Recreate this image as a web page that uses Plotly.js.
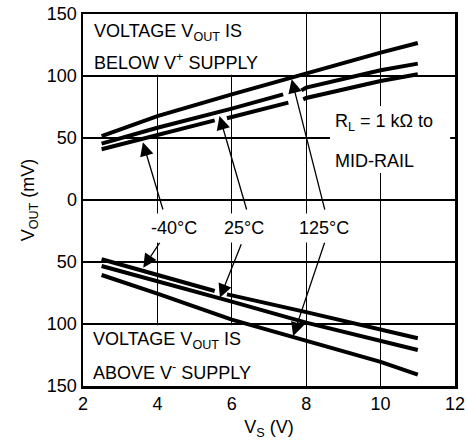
<!DOCTYPE html>
<html>
<head>
<meta charset="utf-8">
<script src="https://cdn.plot.ly/plotly-3.0.1.min.js"></script>
<style>html,body{margin:0;padding:0;background:#fff;}#chart{width:467px;height:447px;}</style>
</head>
<body>
<div id="chart"></div>
<script>
// Supply voltage V_S (V)
const upper125X = [2.5, 4, 6, 8, 10, 11];
const upper125Y = [51.6, 67.7, 85.2, 102.4, 118.8, 126.6];
const upper25X = [2.5, 4, 6, 7.38, null, 7.87, 8, 10, 11];
const upper25Y = [45.4, 58.3, 73.7, 85.2, null, 88.4, 90.6, 104.6, 110];
const upperM40X = [2.5, 4, 5.54, null, 5.87, 6, 7.52, null, 7.92, 8, 10, 11];
const upperM40Y = [40.9, 52.6, 64.2, null, 65.9, 66.9, 78.5, null, 81.2, 82.3, 96, 101.4];
// Below-zero half of the chart: V_OUT above V- supply (plotted downward)
const lowerM40X = [2.5, 4, 5.54, null, 5.87, 6, 8, 10, 11];
const lowerM40Y = [-47.8, -60.7, -73.4, null, -76.1, -76.9, -90.4, -104.3, -111.5];
const lower25X = [2.5, 4, 6, 8, 10, 11];
const lower25Y = [-53.2, -65.2, -82.0, -98.9, -113.6, -121.0];
const lower125X = [2.5, 4, 6, 8, 10, 11];
const lower125Y = [-60.5, -75.5, -96.5, -113.5, -130.5, -140.9];

const xTicks = [2, 4, 6, 8, 10, 12];
const yTicks = [-150, -100, -50, 0, 50, 100, 150];
const yTickText = ['150', '100', '50', '0', '50', '100', '150'];
const tempLabels = ['-40°C', '25°C', '125°C'];

const FONT = 'Liberation Sans, Arial, Helvetica, sans-serif';
const lineStyle = {color: '#000', width: 4};

const series = [
  [upper125X, upper125Y, '125°C above'],
  [upper25X, upper25Y, '25°C above'],
  [upperM40X, upperM40Y, '-40°C above'],
  [lowerM40X, lowerM40Y, '-40°C below'],
  [lower25X, lower25Y, '25°C below'],
  [lower125X, lower125Y, '125°C below']
];
const traces = series.map(s => ({
  x: s[0], y: s[1], name: s[2], type: 'scatter', mode: 'lines',
  line: lineStyle, connectgaps: false, hoverinfo: 'skip'
}));

function txt(x, y, text, anchor) {
  return {x: x, y: y, xref: 'x', yref: 'y', text: text, showarrow: false,
    xanchor: anchor || 'left', yanchor: 'middle', font: {family: FONT, size: 18, color: '#000'}};
}
function arrow(x, y, ax, ay) {
  return {x: x, y: y, ax: ax, ay: ay, xref: 'x', yref: 'y', axref: 'x', ayref: 'y',
    text: '', showarrow: true, arrowhead: 2, arrowsize: 2.1, arrowwidth: 1.3,
    arrowcolor: '#000', standoff: 0, startstandoff: 0};
}
function tempLabel(x, text) {
  const a = txt(x, -22.3, text, 'center');
  a.bgcolor = '#fff';
  a.borderpad = 4;
  return a;
}

const annotations = [
  txt(2.234, 134.9, 'VOLTAGE V<sub>OUT</sub> IS'),
  txt(2.234, 111.5, 'BELOW V<sup>+</sup> SUPPLY'),
  txt(2.207, -113.7, 'VOLTAGE V<sub>OUT</sub> IS'),
  txt(2.207, -137.9, 'ABOVE V<sup>-</sup> SUPPLY'),
  txt(8.73, 62.5, 'R<sub>L</sub> = 1 kΩ to'),
  txt(8.73, 31.5, 'MID-RAIL'),
  arrow(3.61, 46.5, 4.16, -8.9),
  arrow(3.62, -54.6, 4.09, -33.1),
  arrow(5.67, 67.7, 6.41, -8.9),
  arrow(5.68, -78.8, 6.27, -34.4),
  arrow(7.61, 97.3, 8.51, -8.9),
  arrow(7.65, -109.7, 8.51, -33.1),
  tempLabel(4.45, tempLabels[0]),
  tempLabel(6.33, tempLabels[1]),
  tempLabel(8.49, tempLabels[2])
];

const whiteBox = (x0, x1, y0, y1) => ({type: 'rect', xref: 'x', yref: 'y', x0: x0, x1: x1, y0: y0, y1: y1,
  fillcolor: '#fff', line: {width: 0}, layer: 'between'});

const layout = {
  width: 467, height: 447,
  margin: {l: 83, r: 12, t: 14, b: 61},
  paper_bgcolor: '#fff', plot_bgcolor: '#fff',
  showlegend: false,
  font: {family: FONT, size: 18, color: '#000'},
  xaxis: {
    range: [2, 12], tickvals: xTicks, ticktext: xTicks.map(String),
    showgrid: true, gridcolor: '#000', gridwidth: 1.2, zeroline: false,
    showline: true, linecolor: '#000', linewidth: 2.5, mirror: true, ticks: '',
    tickfont: {family: FONT, size: 18, color: '#000'},
    title: {text: 'V<sub>S</sub> (V)', font: {family: FONT, size: 18, color: '#000'}, standoff: 8}
  },
  yaxis: {
    range: [-150, 150], tickvals: yTicks, ticktext: yTickText,
    showgrid: true, gridcolor: '#000', gridwidth: 1.2, zeroline: false,
    showline: true, linecolor: '#000', linewidth: 2.5, mirror: true, ticks: '',
    tickfont: {family: FONT, size: 18, color: '#000'},
    title: {text: 'V<sub>OUT</sub> (mV)', font: {family: FONT, size: 18, color: '#000'}, standoff: 8}
  },
  shapes: [
    whiteBox(2, 7.3, 101, 150),
    whiteBox(2, 7.3, -150, -101),
    whiteBox(8.64, 11.87, 21.8, 75.8)
  ],
  annotations: annotations
};

Plotly.newPlot('chart', traces, layout, {staticPlot: true, displayModeBar: false});
</script>
</body>
</html>
